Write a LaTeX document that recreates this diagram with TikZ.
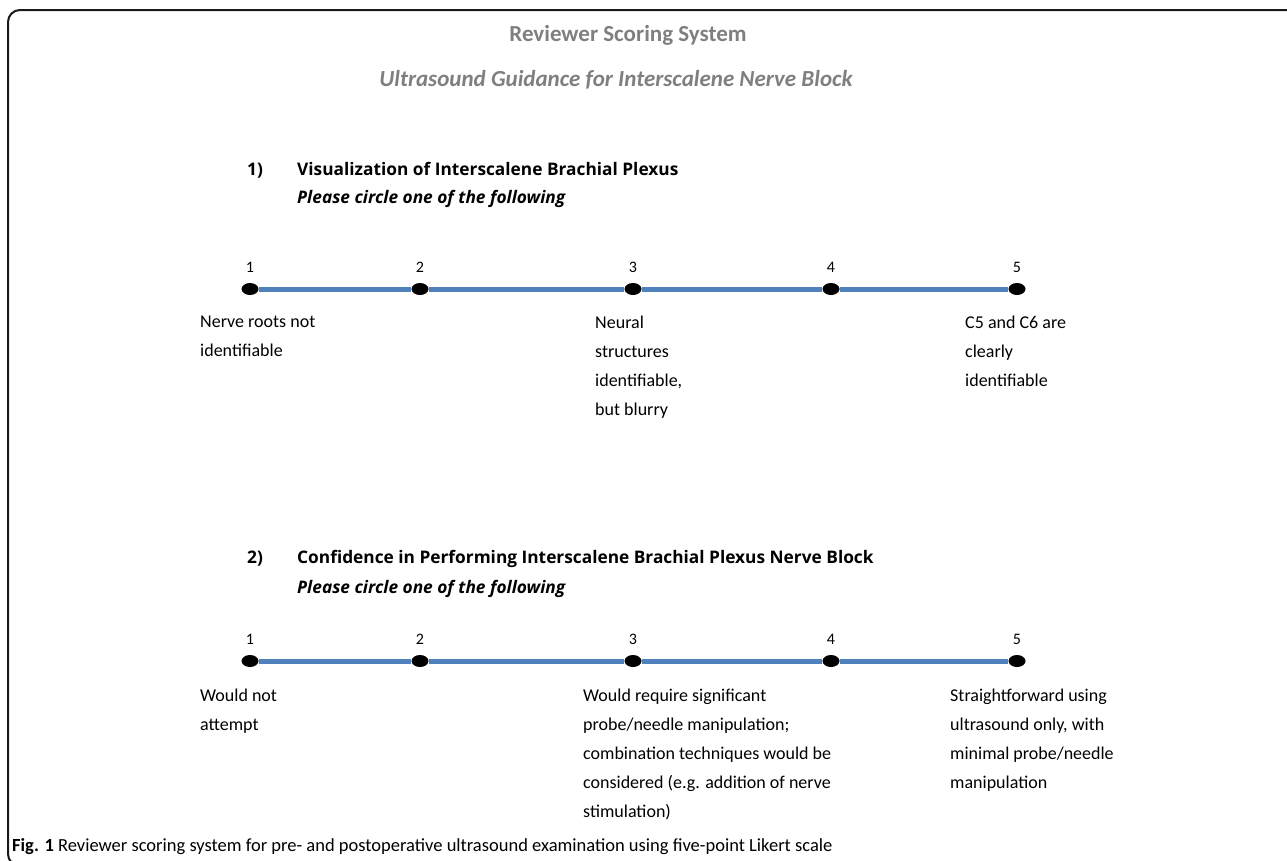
\documentclass[tikz,border=0pt]{standalone}
\usepackage{fontspec}
\setmainfont{Carlito}
\newfontfamily\headfont{Open Sans}
\usepackage{tikz}
\usetikzlibrary{positioning}
\usetikzlibrary{shapes.geometric}
\definecolor{titlegray}{HTML}{7F7F7F}
\definecolor{scaleblue}{HTML}{4F81BD}

\tikzset{
	dot/.style={ellipse, fill=black, minimum width=17pt, minimum height=12pt, inner sep=0pt},
	num/.style={font=\fontsize{16}{19}\selectfont, inner sep=0pt},
	lbl/.style={font=\fontsize{18}{29}\selectfont, align=left, anchor=north west, inner sep=0pt},
	head/.style={font=\headfont\fontsize{17.3}{21}\selectfont\bfseries, anchor=base west, inner sep=0pt},
	scaleline/.style={scaleblue, line width=5pt}
}

\begin{document}
\begin{tikzpicture}[x=1pt, y=-1pt]
				\useasboundingbox (0,0) rectangle (1287,860);
				\begin{scope}
					\clip (0,0) rectangle (1287,860);
					\draw[line width=2pt, black!90, rounded corners=12pt] (1290,10) -- (8,10) -- (8,866) -- (60,866);
				\end{scope}
				
				% titles
				\node[font=\fontsize{23}{26}\selectfont\bfseries, titlegray] (title) at (628,35) {Reviewer Scoring System};
				\node[font=\fontsize{23}{26}\selectfont\bfseries\itshape, titlegray] (subtitle) at (616,80) {Ultrasound Guidance for Interscalene Nerve Block};
				
				% question 1
				\node[head] (q1n) at (247,175) {1)};
				\node[head] (q1) at (297,175) {Visualization of Interscalene Brachial Plexus};
				\node[head, font=\headfont\fontsize{17.3}{21}\selectfont\bfseries\itshape] (q1s) at (297,203) {Please circle one of the following};
				
				\node[dot] (a1) at (250,289) {};
				\node[dot] (a2) at (420,289) {};
				\node[dot] (a3) at (633,289) {};
				\node[dot] (a4) at (831,289) {};
				\node[dot] (a5) at (1017,289) {};
				
				\node[num, above=10pt of a1] {1};
				\node[num, above=10pt of a2] {2};
				\node[num, above=10pt of a3] {3};
				\node[num, above=10pt of a4] {4};
				\node[num, above=10pt of a5] {5};
				
				\draw[scaleline] (a1) -- (a2);
				\draw[scaleline] (a2) -- (a3);
				\draw[scaleline] (a3) -- (a4);
				\draw[scaleline] (a4) -- (a5);
				
				\node[lbl] (a1text) at (200,316) {Nerve roots not\\identifiable};
				\node[lbl] (a3text) at (595,316) {Neural\\structures\\identifiable,\\but blurry};
				\node[lbl] (a5text) at (965,316) {C5 and C6 are\\clearly\\identifiable};
				
				% question 2
				\node[head] (q2n) at (247,563) {2)};
				\node[head] (q2) at (297,563) {Confidence in Performing Interscalene Brachial Plexus Nerve Block};
				\node[head, font=\headfont\fontsize{17.3}{21}\selectfont\bfseries\itshape] (q2s) at (297,593) {Please circle one of the following};
				
				\node[dot] (b1) at (250,661) {};
				\node[dot] (b2) at (420,661) {};
				\node[dot] (b3) at (633,661) {};
				\node[dot] (b4) at (831,661) {};
				\node[dot] (b5) at (1017,661) {};
				
				\node[num, above=10pt of b1] {1};
				\node[num, above=10pt of b2] {2};
				\node[num, above=10pt of b3] {3};
				\node[num, above=10pt of b4] {4};
				\node[num, above=10pt of b5] {5};
				
				\draw[scaleline] (b1) -- (b2);
				\draw[scaleline] (b2) -- (b3);
				\draw[scaleline] (b3) -- (b4);
				\draw[scaleline] (b4) -- (b5);
				
				\node[lbl] (b1text) at (200,689) {Would not\\attempt};
				\node[lbl] (b3text) at (583,689) {Would require significant\\probe/needle manipulation;\\combination techniques would be\\considered (e.g. addition of nerve\\stimulation)};
				\node[lbl] (b5text) at (950,689) {Straightforward using\\ultrasound only, with\\minimal probe/needle\\manipulation};
				
				% caption
				\node[font=\fontsize{18.5}{22}\selectfont, anchor=base west, inner sep=0pt] (caption) at (12,851) {\textbf{Fig. 1} Reviewer scoring system for pre- and postoperative ultrasound examination using five-point Likert scale};
			\end{tikzpicture}
\end{document}
